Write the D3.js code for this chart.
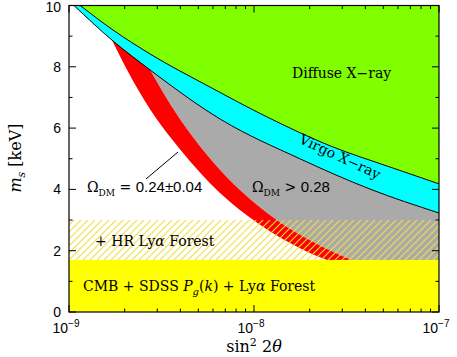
<!DOCTYPE html>
<html><head><meta charset="utf-8">
<script src="https://cdn.jsdelivr.net/npm/d3@7"></script>
<style>body{margin:0;background:#fff}</style>
</head><body>
<svg id="c" width="457" height="357"></svg>
<script>
// ---- data (sin^2 2theta, m_s keV) ----
const diffuseXray = [[1.15e-9,10],[1.73e-9,9.2],[2.74e-9,8.42],[5.78e-9,7.34],[1.18e-8,6.36],[2.58e-8,5.42],[5.43e-8,4.73],[1e-7,4.18]];
const virgoXray   = [[1.064e-9,10],[1.708e-9,8.87],[2.74e-9,7.9],[6.71e-9,6.26],[1.77e-8,5.0],[4.24e-8,4.01],[1e-7,3.23]];
const omegaLow    = [[1.708e-9,8.87],[2.22e-9,7.54],[2.92e-9,6.37],[3.98e-9,5.31],[6.55e-9,3.88],[1.04e-8,2.91],[1.47e-8,2.34],[2.33e-8,1.76],[2.74e-8,1.6]];
const omegaHigh   = [[2.74e-9,7.9],[3.52e-9,6.79],[4.63e-9,5.74],[6.97e-9,4.46],[1.012e-8,3.55],[1.38e-8,2.93],[2.01e-8,2.34],[3.18e-8,1.76],[3.98e-8,1.53]];
const cmbLimit = 1.7;      // CMB + SDSS + Lya Forest
const hrLimit = 3.0;       // + HR Lya Forest
const xDomain = [1e-9, 1e-7];
const yDomain = [0, 10];
const yTicks = [0,2,4,6,8,10];
const yMinorTicks = [1,3,5,7,9];
const xMajorTicks = [1e-9,1e-8,1e-7];
const xTickLabels = ["−9","−8","−7"];

const svg = d3.select("#c");
const L=69,R=439,T=5.5,B=312;
const x = d3.scaleLog().domain(xDomain).range([L,R]);
const y = d3.scaleLinear().domain(yDomain).range([B,T]);
const line = d3.line().x(d=>x(d[0])).y(d=>y(d[1])).curve(d3.curveMonotoneX);

const defs = svg.append("defs");
defs.append("clipPath").attr("id","clip").append("rect").attr("x",L).attr("y",T).attr("width",R-L).attr("height",B-T);
const pat = defs.append("pattern").attr("id","hatch").attr("patternUnits","userSpaceOnUse")
  .attr("width",7).attr("height",7);
pat.append("path").attr("d","M-1,1 l2,-2 M0,7 l7,-7 M6,8 l2,-2").attr("stroke","#f0e040").attr("stroke-width",1.1);

const g = svg.append("g").attr("clip-path","url(#clip)");

// green (diffuse x-ray excluded)
const greenD = line(diffuseXray) + "L" + x(1e-7) + "," + y(10) + "Z";
g.append("path").attr("d",greenD).attr("fill","#80ff00");

// cyan band
const virgoRev = virgoXray.slice().reverse();
const cyanD = line(diffuseXray) + "L" + line(virgoRev).slice(1) + "Z";
g.append("path").attr("d",cyanD).attr("fill","#00ffff");

// gray region: below virgo, above omegaHigh
const vi = virgoXray.findIndex(d=>d[0]===omegaHigh[0][0]);
const virgoPart = virgoXray.slice(vi);
const grayD = line(virgoPart) + "L" + x(1e-7) + "," + y(1.5) + "L" + line(omegaHigh.slice().reverse()).slice(1) + "Z";
g.append("path").attr("d",grayD).attr("fill","#aaaaaa");

// red band
const vj = virgoXray.findIndex(d=>d[0]===omegaLow[0][0]);
const virgoRed = virgoXray.slice(vj, vi+1);
const redD = line(virgoRed) + "L" + line(omegaHigh).slice(1) + "L" + line(omegaLow.slice().reverse()).slice(1) + "Z";
g.append("path").attr("d",redD).attr("fill","#ff0000");

// boundary lines
g.append("path").attr("d",line(diffuseXray)).attr("fill","none").attr("stroke","#000").attr("stroke-width",1);
g.append("path").attr("d",line(virgoXray)).attr("fill","none").attr("stroke","#000").attr("stroke-width",1);

// hatch
g.append("rect").attr("x",L).attr("width",R-L).attr("y",y(hrLimit)).attr("height",y(cmbLimit)-y(hrLimit)).attr("fill","url(#hatch)");
// yellow
g.append("rect").attr("x",L).attr("width",R-L).attr("y",y(cmbLimit)).attr("height",y(0)-y(cmbLimit)).attr("fill","#ffff00");

// axes: ticks inward on all sides
const ax = svg.append("g").attr("stroke","#000").attr("stroke-width",1);
const minorX = [];
for(let e=-9;e<-7;e++) for(let m=2;m<=9;m++) minorX.push(m*Math.pow(10,e));
minorX.forEach(v=>{
  ax.append("line").attr("x1",x(v)).attr("x2",x(v)).attr("y1",B).attr("y2",B-3.5);
  ax.append("line").attr("x1",x(v)).attr("x2",x(v)).attr("y1",T).attr("y2",T+3.5);
});
xMajorTicks.forEach(v=>{
  ax.append("line").attr("x1",x(v)).attr("x2",x(v)).attr("y1",B).attr("y2",B-7);
  ax.append("line").attr("x1",x(v)).attr("x2",x(v)).attr("y1",T).attr("y2",T+7);
});
yTicks.forEach(v=>{
  ax.append("line").attr("x1",L).attr("x2",L+7).attr("y1",y(v)).attr("y2",y(v));
  ax.append("line").attr("x1",R).attr("x2",R-7).attr("y1",y(v)).attr("y2",y(v));
});
yMinorTicks.forEach(v=>{
  ax.append("line").attr("x1",L).attr("x2",L+3.5).attr("y1",y(v)).attr("y2",y(v));
  ax.append("line").attr("x1",R).attr("x2",R-3.5).attr("y1",y(v)).attr("y2",y(v));
});
svg.append("rect").attr("x",L).attr("y",T).attr("width",R-L).attr("height",B-T).attr("fill","none").attr("stroke","#000").attr("stroke-width",1.2);

const sans = "Liberation Sans, Arial, sans-serif";
const serif = "DejaVu Serif, serif";
yTicks.forEach(v=>{
  svg.append("text").attr("x",61).attr("y",Math.max(y(v)+5,12)).attr("text-anchor","end")
    .attr("font-family",sans).attr("font-size",14).text(v);
});
xMajorTicks.forEach((v,i)=>{
  const t = svg.append("text").attr("x",x(v)-3).attr("y",333).attr("text-anchor","middle")
    .attr("font-family",sans).attr("font-size",14);
  t.append("tspan").text("10");
  t.append("tspan").attr("dy",-6).attr("font-size",10).text(xTickLabels[i]);
});

// axis titles
const xt = svg.append("text").attr("x",254).attr("y",352).attr("text-anchor","middle")
  .attr("font-family",serif).attr("font-size",16);
xt.append("tspan").text("sin");
xt.append("tspan").attr("dy",-6).attr("font-size",11).text("2");
xt.append("tspan").attr("dy",6).text(" 2");
xt.append("tspan").attr("font-style","italic").text("θ");

const yt = svg.append("text").attr("transform","translate(21,158) rotate(-90)").attr("text-anchor","middle")
  .attr("font-family",serif).attr("font-size",16);
yt.append("tspan").attr("font-style","italic").text("m");
yt.append("tspan").attr("dy",4).attr("font-size",11).attr("font-style","italic").text("s");
yt.append("tspan").attr("dy",-4).text(" [keV]");

// in-plot labels
svg.append("text").attr("x",292).attr("y",78).attr("font-family",serif).attr("font-size",14).text("Diffuse X−ray");
svg.append("text").attr("transform","translate(338,161) rotate(25)").attr("text-anchor","middle")
  .attr("font-family",serif).attr("font-size",14).text("Virgo X−ray");

const o1 = svg.append("text").attr("x",87).attr("y",192).attr("font-family",serif).attr("font-size",14);
o1.append("tspan").text("Ω");
o1.append("tspan").attr("dy",4).attr("font-size",9).text("DM");
o1.append("tspan").attr("dy",-4).text(" = ");
o1.append("tspan").attr("font-family",sans).attr("font-size",15).text("0.24±0.04");
svg.append("line").attr("x1",146).attr("y1",179).attr("x2",178).attr("y2",152).attr("stroke","#000").attr("stroke-width",1);

const o2 = svg.append("text").attr("x",252).attr("y",192).attr("font-family",serif).attr("font-size",14);
o2.append("tspan").text("Ω");
o2.append("tspan").attr("dy",4).attr("font-size",9).text("DM");
o2.append("tspan").attr("dy",-4).text(" > ");
o2.append("tspan").attr("font-family",sans).attr("font-size",15).text("0.28");

const h = svg.append("text").attr("x",95).attr("y",246).attr("font-family",serif).attr("font-size",14);
h.append("tspan").text("+ HR Ly");
h.append("tspan").attr("font-style","italic").text("α");
h.append("tspan").text(" Forest");

const c = svg.append("text").attr("x",83).attr("y",291).attr("font-family",serif).attr("font-size",14);
c.append("tspan").text("CMB + SDSS ");
c.append("tspan").attr("font-style","italic").text("P");
c.append("tspan").attr("font-style","italic").attr("dy",4).attr("font-size",10).text("g");
c.append("tspan").attr("dy",-4).text("(");
c.append("tspan").attr("font-style","italic").text("k");
c.append("tspan").text(") + Ly");
c.append("tspan").attr("font-style","italic").text("α");
c.append("tspan").text(" Forest");
</script>
</body></html>
